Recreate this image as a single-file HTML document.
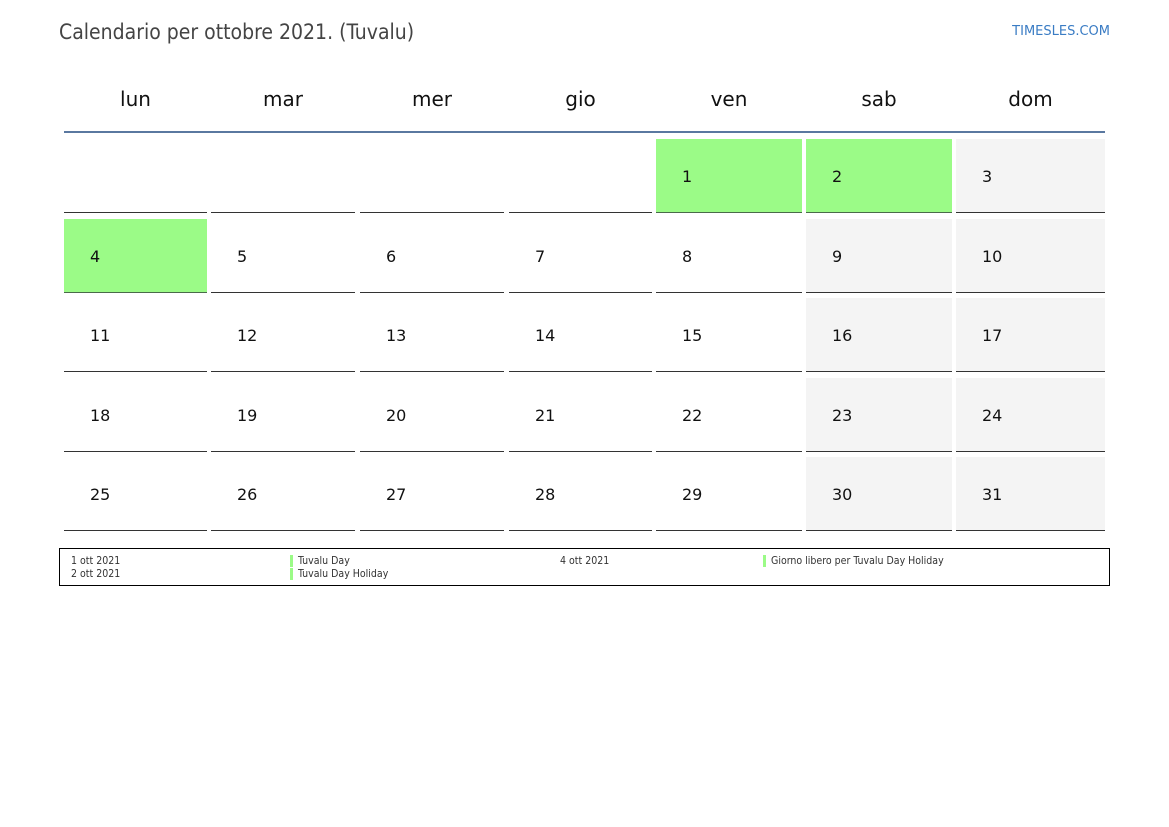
<!DOCTYPE html>
<html><head><meta charset="utf-8"><style>
body{margin:0;width:1169px;height:827px;background:#fff;position:relative;font-family:"DejaVu Sans","Liberation Sans",sans-serif;overflow:hidden}
.a{position:absolute;white-space:nowrap}
.h{position:absolute;top:86px;font-size:20px;color:#111;text-align:center;line-height:26px}
.c{position:absolute;height:73px;border-bottom:1.5px solid #333;font-size:16px;color:#111}
.c span{position:absolute;left:26px;top:28px;line-height:20px}
.g{background:#9bfb87;border-bottom-color:#4a6a4a}
.w{background:#f4f4f4}
.l{position:absolute;font-size:10.5px;color:#333;line-height:12px;font-family:"DejaVu Sans Condensed","DejaVu Sans",sans-serif;font-stretch:condensed;white-space:nowrap}
.bar{position:absolute;width:3px;height:12px;background:#9bfb87}
</style></head><body>
<div class="a" style="left:59px;top:19px;font-size:21px;color:#444;line-height:27px;font-family:'DejaVu Sans Condensed','DejaVu Sans',sans-serif;font-stretch:condensed">Calendario per ottobre 2021. (Tuvalu)</div>
<div class="a" style="right:59px;top:24px;font-size:13px;color:#3a7cc4;line-height:16px">TIMESLES.COM</div>
<div class="h" style="left:64px;width:143px">lun</div>
<div class="h" style="left:211px;width:144px">mar</div>
<div class="h" style="left:360px;width:144px">mer</div>
<div class="h" style="left:509px;width:143px">gio</div>
<div class="h" style="left:656px;width:146px">ven</div>
<div class="h" style="left:806px;width:146px">sab</div>
<div class="h" style="left:956px;width:149px">dom</div>
<div class="a" style="left:64px;top:131px;width:1041px;height:2px;background:#5a78a0"></div>
<div id="grid"></div>
<script>
var L=[64,211,360,509,656,806,956],W=[143,144,144,143,146,146,149],T=[139,219,298,378,457];
var h='';
for(var r=0;r<5;r++)for(var c=0;c<7;c++){var n=r*7+c-3;var cls='c';
if(n>=1&&n<=31){if(n==1||n==2||n==4)cls+=' g';else if(c>=5)cls+=' w';}
h+='<div class="'+cls+'" style="left:'+L[c]+'px;top:'+T[r]+'px;width:'+W[c]+'px">'+(n>=1&&n<=31?'<span>'+n+'</span>':'')+'</div>';}
document.getElementById('grid').innerHTML=h;
</script>
<div class="a" style="left:59px;top:548px;width:1049px;height:36px;border:1px solid #000"></div>
<div class="l" style="left:71px;top:555px">1 ott 2021</div>
<div class="l" style="left:71px;top:568px">2 ott 2021</div>
<div class="bar" style="left:290px;top:555px"></div>
<div class="bar" style="left:290px;top:568px"></div>
<div class="l" style="left:298px;top:555px">Tuvalu Day</div>
<div class="l" style="left:298px;top:568px">Tuvalu Day Holiday</div>
<div class="l" style="left:560px;top:555px">4 ott 2021</div>
<div class="bar" style="left:763px;top:555px"></div>
<div class="l" style="left:771px;top:555px">Giorno libero per Tuvalu Day Holiday</div>
</body></html>
